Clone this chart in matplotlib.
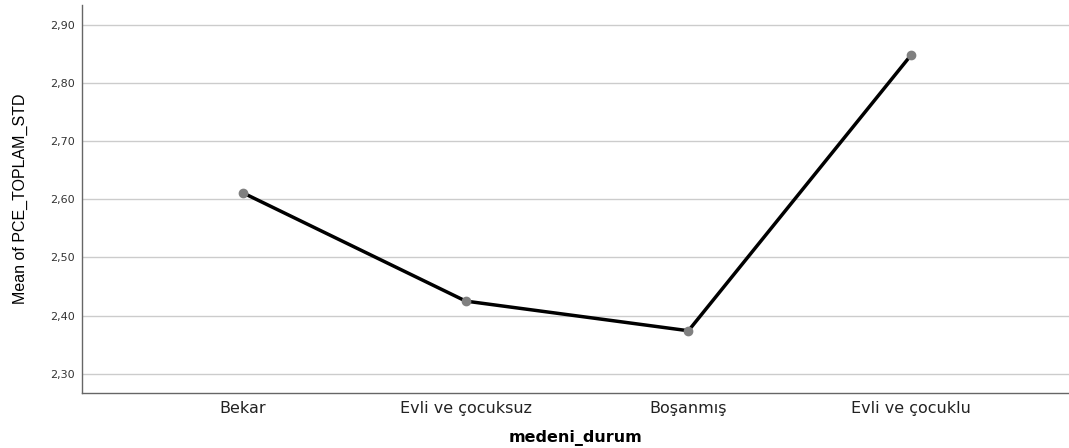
import matplotlib
matplotlib.use("Agg")
import matplotlib.pyplot as plt

categories = ["Bekar", "Evli ve çocuksuz", "Boşanmış", "Evli ve çocuklu"]
means = [2.611, 2.425, 2.374, 2.848]
yticks = [2.30, 2.40, 2.50, 2.60, 2.70, 2.80, 2.90]
ytick_labels = ["2,30", "2,40", "2,50", "2,60", "2,70", "2,80", "2,90"]

fig = plt.figure(figsize=(10.69, 4.48), dpi=100)
ax = fig.add_axes([82/1069, 55/448, (1069-82)/1069, (393-5)/448])

x = list(range(len(categories)))
ax.plot(x, means, color="black", linewidth=2.5, zorder=3)
ax.plot(x, means, linestyle="none", marker="o", markersize=6,
        markerfacecolor="#808080", markeredgecolor="#808080", zorder=4)

ax.set_xlim(-0.723, 3.709)
ax.set_ylim(2.267, 2.934)
ax.set_yticks(yticks)
ax.set_yticklabels(ytick_labels, fontsize=8, color="#333333", fontfamily="DejaVu Sans")
ax.set_xticks(x)
ax.set_xticklabels(categories, fontsize=11.5, color="#222222", fontfamily="DejaVu Sans")
ax.tick_params(axis="both", length=0)
ax.tick_params(axis="y", pad=5)
ax.tick_params(axis="x", pad=6)

ax.grid(axis="y", color="#cccccc", linewidth=1)
ax.set_axisbelow(True)
for s in ["top", "right"]:
    ax.spines[s].set_visible(False)
for s in ["left", "bottom"]:
    ax.spines[s].set_color("#666666")
    ax.spines[s].set_linewidth(1)

ax.set_xlabel("medeni_durum", fontsize=11.5, fontweight="bold",
              fontfamily="DejaVu Sans", labelpad=10)
ax.set_ylabel("Mean of PCE_TOPLAM_STD", fontsize=11.5,
              fontfamily=["Liberation Sans Narrow", "Liberation Sans"], labelpad=16)

fig.savefig("out.png", dpi=100)
